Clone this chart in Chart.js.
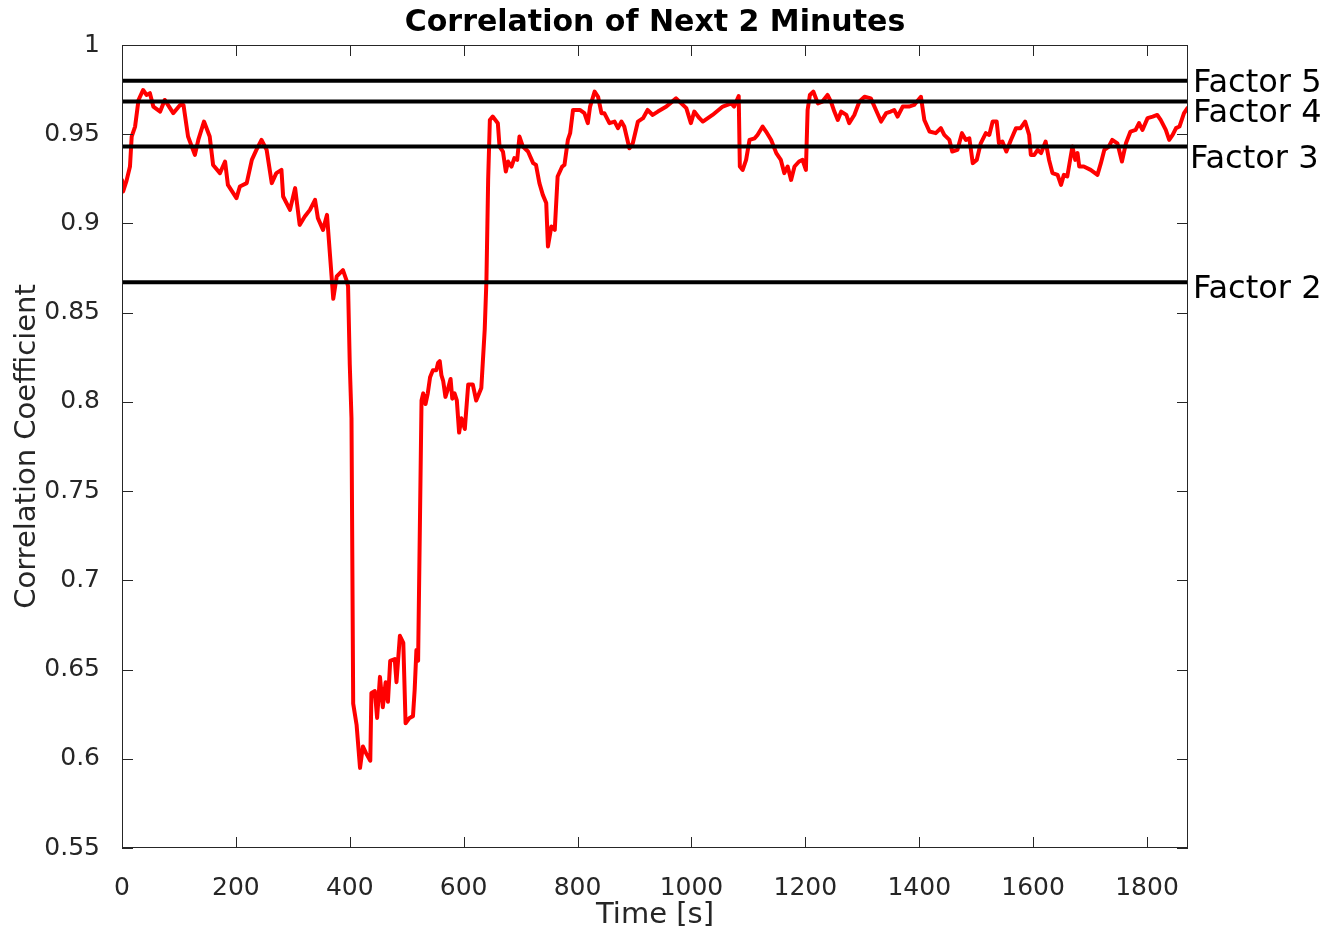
<!DOCTYPE html>
<html>
<head>
<meta charset="utf-8">
<script src="https://cdn.jsdelivr.net/npm/chart.js@4.4.1/dist/chart.umd.min.js"></script>
<style>
  html, body { margin: 0; padding: 0; background: #ffffff; }
  #wrap { width: 1335px; height: 927px; }
</style>
</head>
<body>
<div id="wrap"><canvas id="chart" width="1335" height="927"></canvas></div>
<script>
// Time stamps (s) of the correlation trace
const timeSec = [
  0, 2, 8, 14, 17, 23, 29, 37, 43, 49, 55, 67, 75, 90, 102, 108, 116, 128, 134, 144,
  154, 160, 172, 181, 186, 201, 207, 219, 228, 236, 245, 254, 263, 271, 280, 283, 295, 304, 312, 321,
  330, 339, 344, 353, 360, 365, 371, 377, 388, 394, 397, 400, 403, 406, 412, 418, 423, 429, 436, 438,
  444, 448, 453, 458, 463, 467, 471, 479, 482, 488, 494, 498, 505, 511, 514, 517, 520, 526, 529, 533,
  537, 541, 546, 552, 555, 558, 561, 564, 568, 572, 577, 580, 584, 588, 592, 596, 602, 608, 616, 622,
  631, 637, 640, 643, 646, 651, 660, 663, 669, 674, 678, 684, 689, 694, 698, 704, 713, 722, 727, 733,
  739, 745, 748, 754, 760, 765, 773, 777, 783, 787, 792, 804, 812, 818, 822, 830, 836, 842, 847, 856,
  865, 871, 877, 882, 891, 897, 906, 915, 923, 932, 941, 956, 973, 991, 999, 1005, 1014, 1020, 1037, 1055,
  1070, 1075, 1083, 1085, 1090, 1096, 1102, 1111, 1116, 1125, 1131, 1140, 1149, 1157, 1163, 1169, 1175, 1181, 1189, 1195,
  1201, 1204, 1208, 1214, 1222, 1230, 1239, 1245, 1251, 1257, 1263, 1272, 1277, 1286, 1295, 1304, 1315, 1324, 1333, 1342,
  1350, 1356, 1362, 1371, 1382, 1391, 1403, 1409, 1418, 1429, 1438, 1444, 1453, 1458, 1467, 1475, 1482, 1488, 1494, 1501,
  1508, 1517, 1523, 1529, 1536, 1540, 1546, 1553, 1561, 1570, 1578, 1586, 1593, 1596, 1602, 1608, 1614, 1622, 1628, 1634,
  1643, 1649, 1654, 1660, 1669, 1674, 1678, 1681, 1689, 1701, 1713, 1719, 1725, 1733, 1739, 1748, 1756, 1763, 1771, 1780,
  1786, 1792, 1801, 1810, 1818, 1824, 1833, 1839, 1845, 1851, 1857, 1865, 1871
];

// Correlation coefficient of the next 2 minutes at each time stamp
const corrCoef = [
  0.9244, 0.9179, 0.9240, 0.9319, 0.9487, 0.9543, 0.9692, 0.9748, 0.9720, 0.9730, 0.9655, 0.9627, 0.9692, 0.9618, 0.9664, 0.9664, 0.9487, 0.9384, 0.9468, 0.9571,
  0.9487, 0.9328, 0.9282, 0.9347, 0.9216, 0.9142, 0.9207, 0.9226, 0.9356, 0.9412, 0.9468, 0.9412, 0.9226, 0.9282, 0.9300, 0.9151, 0.9076, 0.9198, 0.8992, 0.9039,
  0.9076, 0.9132, 0.9030, 0.8964, 0.9048, 0.8834, 0.8578, 0.8703, 0.8738, 0.8684, 0.8648, 0.8208, 0.7908, 0.6309, 0.6189, 0.5949, 0.6069, 0.6029, 0.5989, 0.6369,
  0.6379, 0.6229, 0.6459, 0.6289, 0.6429, 0.6319, 0.6549, 0.6559, 0.6429, 0.6689, 0.6649, 0.6199, 0.6229, 0.6239, 0.6389, 0.6609, 0.6549, 0.8008, 0.8048, 0.7988,
  0.8048, 0.8138, 0.8178, 0.8178, 0.8218, 0.8228, 0.8148, 0.8118, 0.8028, 0.8068, 0.8128, 0.8018, 0.8048, 0.8008, 0.7828, 0.7908, 0.7848, 0.8098, 0.8098, 0.8008,
  0.8078, 0.8408, 0.8684, 0.9244, 0.9580, 0.9599, 0.9562, 0.9431, 0.9403, 0.9291, 0.9347, 0.9319, 0.9366, 0.9356, 0.9487, 0.9431, 0.9403, 0.9338, 0.9328, 0.9226,
  0.9160, 0.9114, 0.8871, 0.8983, 0.8964, 0.9263, 0.9319, 0.9328, 0.9468, 0.9506, 0.9636, 0.9636, 0.9618, 0.9562, 0.9655, 0.9739, 0.9710, 0.9618, 0.9618, 0.9562,
  0.9571, 0.9534, 0.9571, 0.9543, 0.9421, 0.9449, 0.9571, 0.9590, 0.9636, 0.9608, 0.9627, 0.9655, 0.9701, 0.9646, 0.9562, 0.9627, 0.9590, 0.9571, 0.9608, 0.9655,
  0.9673, 0.9655, 0.9714, 0.9319, 0.9300, 0.9356, 0.9468, 0.9477, 0.9496, 0.9543, 0.9515, 0.9468, 0.9394, 0.9356, 0.9282, 0.9319, 0.9244, 0.9319, 0.9347, 0.9356,
  0.9300, 0.9636, 0.9720, 0.9739, 0.9673, 0.9683, 0.9720, 0.9683, 0.9627, 0.9580, 0.9627, 0.9608, 0.9562, 0.9608, 0.9683, 0.9710, 0.9701, 0.9636, 0.9571, 0.9618,
  0.9627, 0.9636, 0.9599, 0.9655, 0.9655, 0.9664, 0.9710, 0.9580, 0.9515, 0.9506, 0.9534, 0.9496, 0.9468, 0.9403, 0.9412, 0.9506, 0.9468, 0.9477, 0.9338, 0.9356,
  0.9449, 0.9506, 0.9496, 0.9571, 0.9571, 0.9449, 0.9459, 0.9403, 0.9468, 0.9534, 0.9534, 0.9571, 0.9496, 0.9384, 0.9384, 0.9412, 0.9394, 0.9459, 0.9356, 0.9282,
  0.9272, 0.9216, 0.9272, 0.9263, 0.9431, 0.9356, 0.9394, 0.9319, 0.9319, 0.9300, 0.9272, 0.9338, 0.9412, 0.9431, 0.9468, 0.9449, 0.9347, 0.9449, 0.9515, 0.9524,
  0.9562, 0.9524, 0.9590, 0.9599, 0.9608, 0.9580, 0.9524, 0.9468, 0.9496, 0.9534, 0.9543, 0.9618, 0.9646
];

// Reference levels drawn as horizontal lines
const factorNames  = ['Factor 5', 'Factor 4', 'Factor 3', 'Factor 2'];
const factorLevels = [0.9800, 0.9683, 0.9431, 0.8671];

// Axis ticks
const xTickValues = [0, 200, 400, 600, 800, 1000, 1200, 1400, 1600, 1800];
const yTickValues = [0.55, 0.6, 0.65, 0.7, 0.75, 0.8, 0.85, 0.9, 0.95, 1];
const timeMax = 1872;

const AXIS_COLOR = '#262626';
const FONT = '"DejaVu Sans", "Liberation Sans", sans-serif';

// Box around the plot, inward tick marks on all sides, title and level labels
const axesDecor = {
  id: 'axesDecor',
  afterDraw(chart, args, opts) {
    const { ctx, chartArea: a, scales: { x, y } } = chart;
    const L = opts.tickLength;
    ctx.save();
    ctx.strokeStyle = AXIS_COLOR;
    ctx.lineWidth = 1;
    ctx.beginPath();
    x.ticks.forEach(t => {
      const px = Math.round(x.getPixelForValue(t.value)) + 0.5;
      ctx.moveTo(px, a.bottom); ctx.lineTo(px, a.bottom - L);
      ctx.moveTo(px, a.top);    ctx.lineTo(px, a.top + L);
    });
    y.ticks.forEach(t => {
      const py = Math.round(y.getPixelForValue(t.value)) + 0.5;
      ctx.moveTo(a.left, py);  ctx.lineTo(a.left + L, py);
      ctx.moveTo(a.right, py); ctx.lineTo(a.right - L, py);
    });
    ctx.stroke();
    ctx.strokeRect(Math.round(a.left) + 0.5, Math.round(a.top) + 0.5,
                   Math.round(a.width) - 1, Math.round(a.height) - 1);

    // title
    ctx.fillStyle = '#000000';
    ctx.font = 'bold 30px ' + FONT;
    ctx.textAlign = 'center';
    ctx.textBaseline = 'alphabetic';
    ctx.fillText(opts.title, (a.left + a.right) / 2, 31);

    // level labels right of the plot
    ctx.font = '32px ' + FONT;
    ctx.textAlign = 'left';
    factorNames.forEach((name, i) => {
      const py = y.getPixelForValue(factorLevels[i]);
      ctx.fillText(name, a.right + opts.labelDx[i], py + opts.labelDy[i]);
    });
    ctx.restore();
  }
};

const levelSets = factorLevels.map((v, i) => ({
  label: factorNames[i],
  data: [{ x: 0, y: v }, { x: timeMax, y: v }],
  borderColor: '#000000',
  borderWidth: 4,
  pointRadius: 0,
  order: 1
}));

new Chart(document.getElementById('chart'), {
  type: 'line',
  data: {
    datasets: [
      {
        label: 'Correlation',
        data: timeSec.map((t, i) => ({ x: t, y: corrCoef[i] })),
        borderColor: '#ff0000',
        borderWidth: 4,
        pointRadius: 0,
        tension: 0,
        borderJoinStyle: 'round',
        borderCapStyle: 'round',
        order: 2
      },
      ...levelSets
    ]
  },
  options: {
    responsive: false,
    devicePixelRatio: 1,
    animation: false,
    events: [],
    layout: { padding: { top: 45, right: 147, left: 0, bottom: 0 } },
    plugins: {
      legend: { display: false },
      tooltip: { enabled: false },
      title: { display: false },
      axesDecor: {
        tickLength: 11,
        title: 'Correlation of Next 2 Minutes',
        labelDx: [5, 5, 2, 5],
        labelDy: [11, 20, 21, 16]
      }
    },
    scales: {
      x: {
        type: 'linear',
        min: 0,
        max: timeMax,
        grid: { display: false },
        border: { display: false },
        afterBuildTicks: s => { s.ticks = xTickValues.map(v => ({ value: v })); },
        afterFit: s => { s.height = 79; },
        ticks: {
          autoSkip: false,
          maxRotation: 0,
          padding: 17,
          color: AXIS_COLOR,
          font: { family: FONT, size: 25 },
          callback: v => String(v)
        },
        title: {
          display: true,
          text: 'Time [s]',
          color: AXIS_COLOR,
          font: { family: FONT, size: 29, lineHeight: 0.7 },
          padding: { top: 0, bottom: 1 }
        }
      },
      y: {
        type: 'linear',
        min: 0.55,
        max: 1,
        grid: { display: false },
        border: { display: false },
        afterBuildTicks: s => { s.ticks = yTickValues.map(v => ({ value: v })); },
        afterFit: s => { s.width = 122; },
        ticks: {
          autoSkip: false,
          padding: 14,
          color: AXIS_COLOR,
          font: { family: FONT, size: 25 },
          callback: v => String(+v.toFixed(2))
        },
        title: {
          display: true,
          text: 'Correlation Coefficient',
          color: AXIS_COLOR,
          font: { family: FONT, size: 29, lineHeight: 1.2 },
          padding: { top: 10, bottom: 0 }
        }
      }
    }
  },
  plugins: [axesDecor]
});
</script>
</body>
</html>
